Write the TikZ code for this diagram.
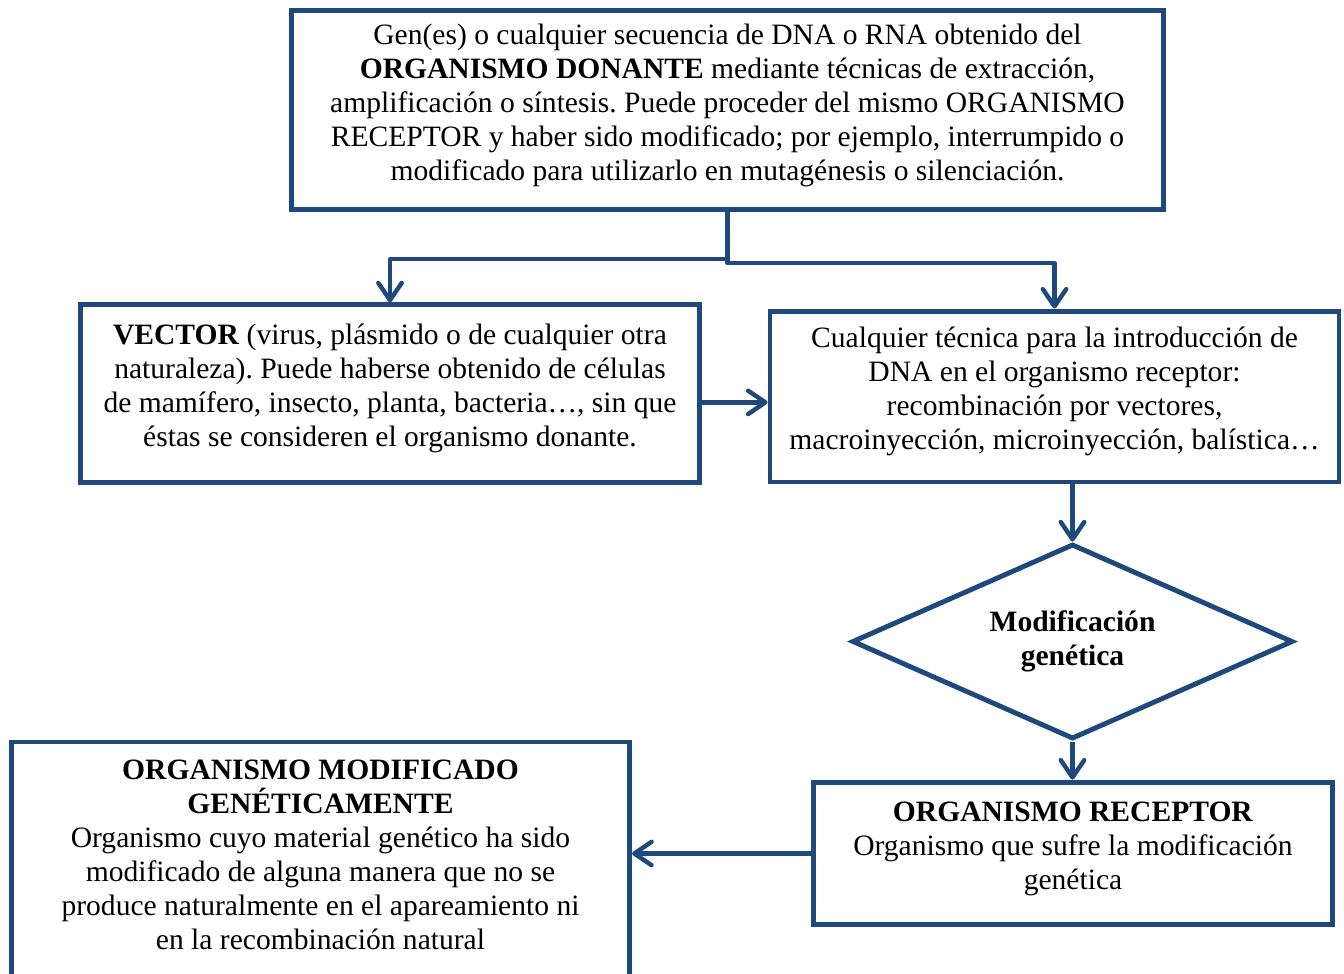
\documentclass[tikz,border=0pt]{standalone}
\usepackage{fontspec}
\setmainfont{Liberation Serif}
\usetikzlibrary{calc,positioning,shapes,arrows.meta}
\definecolor{frameblue}{HTML}{1F497D}
\frenchspacing

\begin{document}
\begin{tikzpicture}[x=0.406pt,y=-0.406pt,
  shape text/.style={draw=frameblue,line width=2pt,align=center,
    font=\fontsize{12pt}{13.8pt}\selectfont},
  box/.style={shape text,shape=rectangle,inner sep=3pt,
    execute at begin node={\spaceskip=3pt\relax},execute at end node={\endgraf\kern4pt}},
  conn/.style={draw=frameblue,line width=1.8pt,line join=round,
    -{Straight Barb[length=7pt,width=9.5pt,round]}}]
\useasboundingbox[fill=white] (0,0) rectangle (1344,973);
% cajas
\node[box,minimum width=354pt,minimum height=81pt,text width=345pt](donor) at (727.5,110) {Gen(es) o cualquier secuencia de DNA o RNA obtenido del\\
\textbf{ORGANISMO DONANTE} mediante técnicas de extracción,\\
amplificación o síntesis. Puede proceder del mismo ORGANISMO\\
RECEPTOR y haber sido modificado; por ejemplo, interrumpido o\\
modificado para utilizarlo en mutagénesis o silenciación.};
\node[box,minimum width=251pt,minimum height=72pt,text width=240pt](vector) at (390,393.5) {\textbf{VECTOR} (virus, plásmido o de cualquier otra\\
naturaleza). Puede haberse obtenido de células\\
de mamífero, insecto, planta, bacteria…, sin que\\
éstas se consideren el organismo donante.};
\node[box,minimum width=231pt,minimum height=69.4pt,text width=222pt](tech) at (1054.5,396.5) {Cualquier técnica para la introducción de\\
DNA en el organismo receptor:\\
recombinación por vectores,\\
macroinyección, microinyección, balística…};
\node[shape text,shape=diamond,aspect=2.26,inner sep=0pt,minimum width=179pt,minimum height=79.2pt](diam) at (1072.5,641.5) {\textbf{Modificación}\\ \textbf{genética}};
\node[box,minimum width=211pt,minimum height=58pt,text width=200pt](recep) at (1073,853.5) {\textbf{ORGANISMO RECEPTOR}\\
Organismo que sufre la modificación\\
genética};
\node[box,minimum width=251pt,minimum height=95.4pt,text width=240pt](gmo) at (320.5,859.5) {\textbf{ORGANISMO MODIFICADO}\\
\textbf{GENÉTICAMENTE}\\
Organismo cuyo material genético ha sido\\
modificado de alguna manera que no se\\
produce naturalmente en el apareamiento ni\\
en la recombinación natural};
% flechas
\coordinate(v2t) at ([yshift=-3.6pt]vector.east);
\draw[conn] (donor.south) -- ++(0,47) -| (vector.north);
\draw[conn] (donor.south) -- ++(0,51) -| (tech.north);
\path
(v2t) edge[conn] (v2t -| tech.west)
(tech.south -| diam.north) edge[conn] (diam.north)
(diam.south) edge[conn] (diam.south |- recep.north)
(recep.west) edge[conn] (recep.west -| gmo.east);
\end{tikzpicture}
\end{document}
